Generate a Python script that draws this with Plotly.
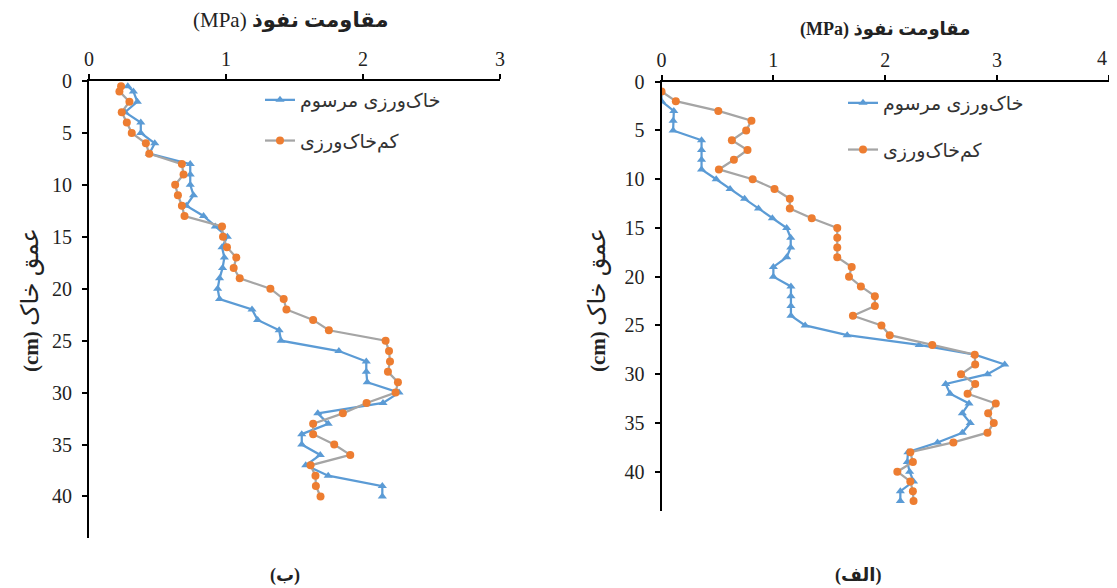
import plotly.graph_objects as go

# ---------------- data ----------------
left_depth = [0.5, 1, 2, 3, 4, 5, 6, 7, 8, 9, 10, 11, 12, 13, 14, 15, 16, 17, 18, 19, 20,
              21, 22, 23, 24, 25, 26, 27, 28, 29, 30, 31, 32, 33, 34, 35, 36, 37, 38, 39, 40]
left_conv = [0.283, 0.324, 0.353, 0.263, 0.378, 0.378, 0.48, 0.44, 0.739, 0.739, 0.739,
             0.763, 0.71, 0.836, 0.922, 1.01, 0.971, 0.988, 0.975, 0.953, 0.939,
             0.953, 1.19, 1.231, 1.388, 1.402, 1.824, 2.024, 2.024, 2.031, 2.263,
             2.146, 1.67, 1.746, 1.553, 1.553, 1.688, 1.582, 1.746, 2.141, 2.141]
left_min = [0.234, 0.222, 0.295, 0.239, 0.276, 0.312, 0.415, 0.44, 0.678, 0.69, 0.629,
            0.649, 0.678, 0.697, 0.971, 0.978, 1.007, 1.075, 1.056, 1.1, 1.324,
            1.421, 1.441, 1.636, 1.751, 2.165, 2.19, 2.197, 2.182, 2.255, 2.238,
            2.026, 1.853, 1.636, 1.636, 1.79, 1.907, 1.617, 1.653, 1.656, 1.69]

right_depth = [1, 2, 3, 4, 5, 6, 7, 8, 9, 10, 11, 12, 13, 14, 15, 16, 17, 18, 19, 20, 21,
               22, 23, 24, 25, 26, 27, 28, 29, 30, 31, 32, 33, 34, 35, 36, 37, 38, 39, 40,
               41, 42, 43]
right_conv = [0.0, 0.0, 0.11, 0.104, 0.104, 0.358, 0.358, 0.358, 0.358, 0.489, 0.613,
              0.743, 0.867, 0.991, 1.119, 1.155, 1.155, 1.119, 1.0, 1.0, 1.157,
              1.157, 1.157, 1.157, 1.284, 1.66, 2.304, 2.8, 3.068, 2.914, 2.54,
              2.58, 2.749, 2.689, 2.76, 2.689, 2.467, 2.203, 2.197, 2.218, 2.253,
              2.135, 2.135]
right_min = [0.0, 0.128, 0.508, 0.804, 0.757, 0.629, 0.769, 0.647, 0.513, 0.815, 1.01,
             1.147, 1.147, 1.343, 1.571, 1.571, 1.571, 1.571, 1.7, 1.676, 1.782,
             1.907, 1.907, 1.711, 1.966, 2.04, 2.42, 2.8, 2.804, 2.677, 2.804,
             2.736, 2.988, 2.92, 2.97, 2.914, 2.609, 2.224, 2.247, 2.108, 2.224,
             2.247, 2.253]

name_conv = "خاک‌ورزی مرسوم"
name_min = "کم‌خاک‌ورزی"
x_title_fa = "مقاومت نفوذ"
x_unit = "(MPa)"
y_title_fa = "عمق خاک"
y_unit = "(cm)"
y_ticks = [0, 5, 10, 15, 20, 25, 30, 35, 40]
left_x_ticks = [0, 1, 2, 3]
right_x_ticks = [0, 1, 2, 3, 4]
right_x_labels = ["0", "1", "2", "3", "4"]

BLUE = "#5B9BD5"
GRAY = "#A5A5A5"
ORANGE = "#ED7D31"
SERIF = "Liberation Serif, DejaVu Sans, serif"
SANS = "Liberation Sans, DejaVu Sans, sans-serif"

# the page body has an 8px margin: the figure is drawn from (8, 8)
OFF = 8
W, H = 1117 - OFF, 588 - OFF

def px(X):
    return (X - OFF) / W

def py(Y):
    return 1 - (Y - OFF) / H

fig = go.Figure()

def add_pair(xa, ya, depth, conv, mn, legend):
    fig.add_trace(go.Scatter(
        x=conv, y=depth, xaxis=xa, yaxis=ya, mode="lines+markers", name=name_conv,
        line=dict(color=BLUE, width=2.25),
        marker=dict(symbol="triangle-up", size=8, color=BLUE),
        legend=legend, legendgroup=legend + "a"))
    fig.add_trace(go.Scatter(
        x=mn, y=depth, xaxis=xa, yaxis=ya, mode="lines+markers", name=name_min,
        line=dict(color=GRAY, width=2.25),
        marker=dict(symbol="circle", size=8, color=ORANGE),
        legend=legend, legendgroup=legend + "b"))

add_pair("x", "y", left_depth, left_conv, left_min, "legend")
add_pair("x2", "y2", right_depth, right_conv, right_min, "legend2")

xcommon = dict(side="top", showgrid=False, zeroline=False, showline=True,
               linecolor="black", linewidth=2, ticks="outside", ticklen=5,
               tickcolor="black", tickwidth=1.5, automargin=False,
               tickfont=dict(family=SERIF, size=20, color="#222"))
ycommon = dict(showgrid=False, zeroline=False, showline=True,
               linecolor="black", linewidth=2, ticks="outside", ticklen=5,
               tickcolor="black", tickwidth=1.5, range=[44, 0], automargin=False,
               tickvals=y_ticks, ticklabelstandoff=6,
               tickfont=dict(family=SERIF, size=20, color="#222"))

# last right tick label is drawn as an annotation so it is not clipped at the edge
right_ticktext = right_x_labels[:-1] + [""]

fig.update_layout(
    width=W, height=H,
    margin=dict(l=0, r=0, t=0, b=0, autoexpand=False),
    paper_bgcolor="white", plot_bgcolor="white",
    xaxis=dict(domain=[px(89), px(500)], range=[0, 3], anchor="y",
               tickvals=left_x_ticks, **xcommon),
    yaxis=dict(domain=[py(538), py(81)], anchor="x", **ycommon),
    xaxis2=dict(domain=[px(661.5), px(1109)], range=[0, 4], anchor="y2",
                tickvals=right_x_ticks, ticktext=right_ticktext, **xcommon),
    yaxis2=dict(domain=[py(510.7), py(81.7)], anchor="x2", **ycommon),
    legend=dict(x=px(260), y=py(81), xanchor="left", yanchor="top",
                bgcolor="rgba(0,0,0,0)", tracegroupgap=13,
                font=dict(family=SANS, size=19, color="#333")),
    legend2=dict(x=px(843), y=py(84), xanchor="left", yanchor="top",
                 bgcolor="rgba(0,0,0,0)", tracegroupgap=19,
                 font=dict(family=SANS, size=19, color="#333")),
    showlegend=True,
)

ytitle = "<b>" + y_unit + "</b> <span style='font-size:24px'>" + y_title_fa + "</span>"
ann = [
    dict(text=x_unit + " <b>" + x_title_fa + "</b>", x=px(290), y=py(20),
         font=dict(family=SERIF, size=21, color="#222")),
    dict(text="<b>" + x_unit + " " + x_title_fa + "</b>", x=px(885), y=py(30),
         font=dict(family=SERIF, size=18, color="#222")),
    dict(text=ytitle, x=px(30), y=py(300), textangle=-90,
         font=dict(family=SERIF, size=21, color="#222")),
    dict(text=ytitle, x=px(597), y=py(300), textangle=-90,
         font=dict(family=SERIF, size=21, color="#222")),
    dict(text="<b>(ب)</b>", x=px(285), y=py(575),
         font=dict(family=SERIF, size=18, color="#222")),
    dict(text="<b>(الف)</b>", x=px(858), y=py(575),
         font=dict(family=SERIF, size=18, color="#222")),
]
for a in ann:
    a.update(xanchor="center")
ann.append(dict(text=right_x_labels[-1], x=px(1109), y=py(58), xanchor="right",
                font=dict(family=SERIF, size=20, color="#222")))
for a in ann:
    a.update(xref="paper", yref="paper", showarrow=False, yanchor="middle")
fig.update_layout(annotations=ann)

fig.write_html("out.html")
